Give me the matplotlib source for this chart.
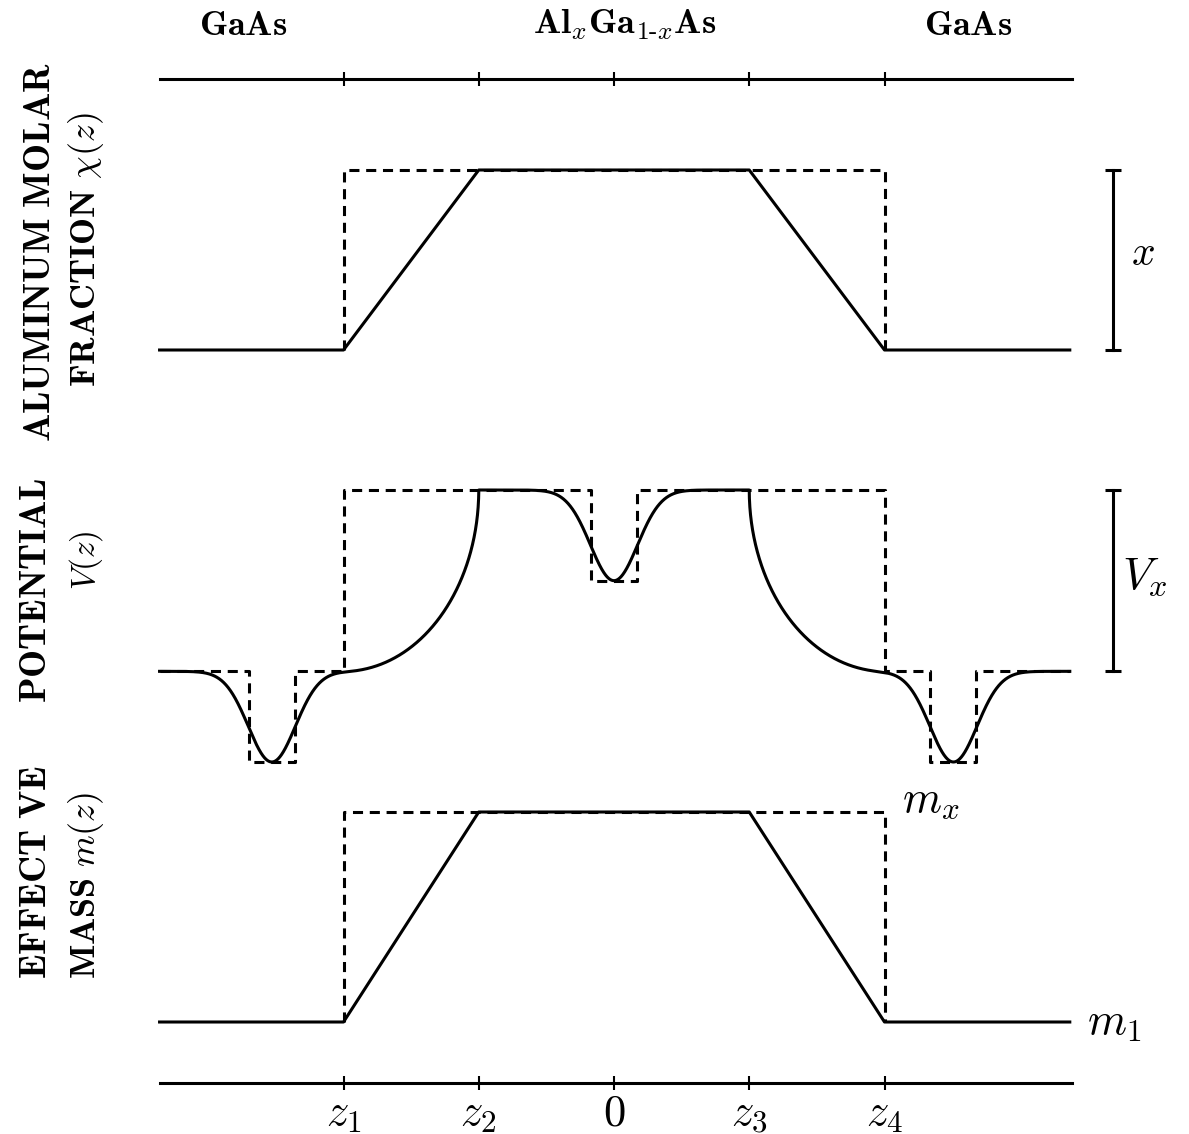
import numpy as np
import matplotlib.pyplot as plt

plt.rcParams['mathtext.fontset'] = 'cm'
plt.rcParams['font.family'] = 'serif'

W, H = 1189, 1134

# z axis: interfaces z1, z2, 0, z3, z4 and the drawn range
z_min, z_max = -3.36, 3.37
z_ticks = [-2.0, -1.0, 0.0, 1.0, 2.0]
z_labels = ['$z_1$', '$z_2$', '$0$', '$z_3$', '$z_4$']

# aluminium molar fraction (in units of x): graded and abrupt profiles
chi_z = [-3.36, -2.0, -1.0, 1.0, 2.0, 3.37]
chi_graded = [0, 0, 1, 1, 0, 0]
chi_abrupt_z = [-2.0, -2.0, 2.0, 2.0]
chi_abrupt = [0, 1, 1, 0]

# effective mass (0 -> m_1, 1 -> m_x)
mass_z = [-3.36, -2.0, -1.0, 1.0, 2.0, 3.37]
mass_graded = [0, 0, 1, 1, 0, 0]
mass_abrupt_z = [-2.0, -2.0, 2.0, 2.0]
mass_abrupt = [0, 1, 1, 0]

# potential (in units of V_x): abrupt profile with three square wells
pot_abrupt_z = [-3.36, -2.70, -2.70, -2.36, -2.36, -2.0, -2.0, -0.17, -0.17,
                0.17, 0.17, 2.0, 2.0, 2.34, 2.34, 2.68, 2.68, 3.37]
pot_abrupt = [0, 0, -0.5, -0.5, 0, 0, 1, 1, 0.5,
              0.5, 1, 1, 0, 0, -0.5, -0.5, 0, 0]
# smoothed wells: centre, depth, width
well_centres = [-2.53, 0.0, 2.51]
well_depth = 0.5
well_sigma = 0.174

# smooth potential: elliptic grading between z1-z2 and z3-z4, gaussian wells
z = np.linspace(z_min, z_max, 4001)
z = np.union1d(z, z_ticks)
pot = np.zeros_like(z)
z1, z2, z0, z3, z4 = z_ticks
m = (z >= z1) & (z <= z2)
t = (z[m] - z1) / (z2 - z1)
pot[m] = 1 - np.sqrt(np.clip(1 - t**2, 0, None))
pot[(z > z2) & (z < z3)] = 1
m = (z >= z3) & (z <= z4)
t = (z4 - z[m]) / (z4 - z3)
pot[m] = 1 - np.sqrt(np.clip(1 - t**2, 0, None))
for c in well_centres:
    pot -= well_depth * np.exp(-(z - c)**2 / (2 * well_sigma**2))

LW = 2.2
DASH = (0, (3.3, 2.2))

x_left, x_right = 160, 1072
xlim = ((x_left - 614) / 135.25, (x_right - 614) / 135.25)


def add_panel(y_top, y_bot, ylim):
    ax = fig.add_axes([x_left / W, 1 - y_bot / H, (x_right - x_left) / W, (y_bot - y_top) / H])
    ax.set_xlim(*xlim)
    ax.set_ylim(*ylim)
    ax.axis('off')
    return ax


def add_axis_line(y, labels):
    ax = fig.add_axes([x_left / W, 1 - y / H, (x_right - x_left) / W, 0.01])
    ax.set_xlim(*xlim)
    ax.patch.set_visible(False)
    for s in ['top', 'left', 'right']:
        ax.spines[s].set_visible(False)
    ax.spines['bottom'].set_linewidth(LW)
    ax.set_yticks([])
    ax.set_xticks(z_ticks)
    ax.tick_params(axis='x', direction='inout', length=10, width=1.5, pad=1, labelsize=32)
    if labels:
        ax.set_xticklabels(labels)
    else:
        ax.set_xticklabels([])
    return ax


fig = plt.figure(figsize=(W / 100, H / 100), dpi=100)

add_axis_line(79, None)
add_axis_line(1083, z_labels)

# aluminium fraction
ax = add_panel(170, 350, (0, 1))
ax.plot(chi_z, chi_graded, color='black', lw=LW, clip_on=False)
ax.plot(chi_abrupt_z, chi_abrupt, color='black', lw=LW, ls=DASH, clip_on=False)
bx = (1113 - 614) / 135.25
ax.plot([bx, bx], [0, 1], color='black', lw=LW, marker='_', ms=12, mew=2.2, clip_on=False)
ax.text(bx + 0.22, 0.54, '$x$', fontsize=30, ha='center', va='center')

# potential
ax = add_panel(490, 762, (-0.5, 1))
ax.plot(pot_abrupt_z, pot_abrupt, color='black', lw=LW, ls=DASH, clip_on=False)
ax.plot(z, pot, color='black', lw=LW, clip_on=False)
ax.plot([bx, bx], [0, 1], color='black', lw=LW, marker='_', ms=12, mew=2.2, clip_on=False)
ax.text(bx + 0.07, 0.52, '$V_x$', fontsize=33, ha='left', va='center')

# effective mass
ax = add_panel(812, 1022, (0, 1))
ax.plot(mass_z, mass_graded, color='black', lw=LW, clip_on=False)
ax.plot(mass_abrupt_z, mass_abrupt, color='black', lw=LW, ls=DASH, clip_on=False)
ax.text(2.34, 1.06, '$m_x$', fontsize=32, ha='center', va='center')
ax.text(3.50, 0.0, '$m_1$', fontsize=32, ha='left', va='center')

# material labels
fig.text(243 / W, 1 - 25 / H, r'$\mathbf{GaAs}$', fontsize=26, ha='center', va='center')
fig.text(625 / W, 1 - 25 / H, r'$\mathbf{Al}_x\mathbf{Ga}_{\mathbf{1}\text{-}x}\mathbf{As}$',
         fontsize=26, ha='center', va='center')
fig.text(968 / W, 1 - 25 / H, r'$\mathbf{GaAs}$', fontsize=26, ha='center', va='center')

# left row labels
fig.text(40 / W, 1 - 252 / H, r'$\mathbf{ALUMINUM\ MOLAR}$', fontsize=27,
         rotation=90, ha='center', va='center')
fig.text(86 / W, 1 - 250 / H, r'$\mathbf{FRACTION}\ \chi(z)$', fontsize=26,
         rotation=90, ha='center', va='center')
fig.text(36 / W, 1 - 590 / H, r'$\mathbf{POTENTIAL}$', fontsize=27,
         rotation=90, ha='center', va='center')
fig.text(86 / W, 1 - 560 / H, r'$V(z)$', fontsize=24,
         rotation=90, ha='center', va='center')
fig.text(36 / W, 1 - 872 / H, r'$\mathbf{EFFECT\ VE}$', fontsize=27,
         rotation=90, ha='center', va='center')
fig.text(86 / W, 1 - 885 / H, r'$\mathbf{MASS}\ m(z)$', fontsize=26,
         rotation=90, ha='center', va='center')

fig.savefig('out.png', dpi=100)
